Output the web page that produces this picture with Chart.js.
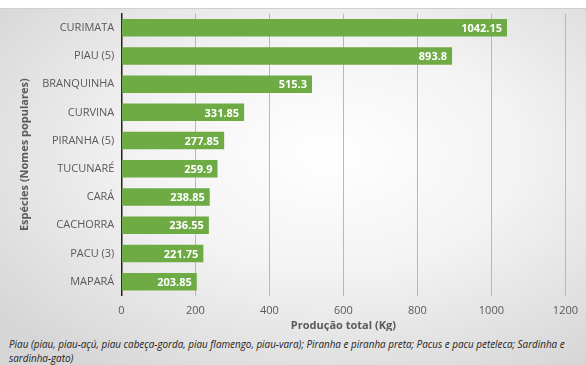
<!DOCTYPE html>
<html>
<head>
<meta charset="utf-8">
<script src="https://cdn.jsdelivr.net/npm/chart.js@4"></script>
<style>
  html, body { margin: 0; padding: 0; }
  body {
    width: 586px; height: 365px; overflow: hidden; position: relative;
    background: #ffffff;
    font-family: "Open Sans", "Liberation Sans", sans-serif;
  }
  #bg {
    position: absolute; left: 0; top: 8px; width: 586px; height: 357px;
    background: radial-gradient(ellipse 420px 260px at 330px 145px, #ffffff 0%, #f3f3f3 45%, #d6d6d6 100%);
    border-top: 1px solid #d0d0d0;
  }
  #wrap { position: absolute; left: 0; top: 0; width: 586px; height: 331px; }
  #note {
    position: absolute; left: 9px; top: 337px; width: 572px;
    font-size: 9.9px; font-style: italic; color: #222; line-height: 14px;
  }
</style>
</head>
<body>
<div id="bg"></div>
<div id="wrap"><canvas id="chart"></canvas></div>
<div id="note">Piau (piau, piau-açú, piau cabeça-gorda, piau flamengo, piau-vara); Piranha e piranha preta; Pacus e pacu peteleca; Sardinha e sardinha-gato)</div>
<script>
const species = ['CURIMATA', 'PIAU (5)', 'BRANQUINHA', 'CURVINA', 'PIRANHA (5)', 'TUCUNARÉ', 'CARÁ', 'CACHORRA', 'PACU (3)', 'MAPARÁ'];
const production = [1042.15, 893.8, 515.3, 331.85, 277.85, 259.9, 238.85, 236.55, 221.75, 203.85];
const xTicks = [0, 200, 400, 600, 800, 1000, 1200];

// rótulos brancos no fim de cada barra
const insideLabels = {
    id: 'insideLabels',
    afterDatasetsDraw(chart) {
        const ctx = chart.ctx;
        const meta = chart.getDatasetMeta(0);
        ctx.save();
        ctx.font = 'bold 11px "Open Sans", sans-serif';
        ctx.fillStyle = '#ffffff';
        ctx.textAlign = 'right';
        ctx.textBaseline = 'middle';
        meta.data.forEach(function (bar, i) {
            ctx.fillText(String(production[i]), bar.x - 5, bar.y + 1);
        });
        ctx.restore();
    }
};

const ctx = document.getElementById('chart').getContext('2d');
const chart = new Chart(ctx, {
    type: 'bar',
    data: {
        labels: species,
        datasets: [{
            data: production,
            backgroundColor: '#6eab44',
            borderWidth: 0,
            barPercentage: 0.62,
            categoryPercentage: 1.0
        }]
    },
    options: {
        indexAxis: 'y',
        responsive: true,
        maintainAspectRatio: false,
        animation: false,
        layout: { padding: { left: 18, right: 20, top: 5, bottom: 0 } },
        scales: {
            x: {
                min: 0,
                max: 1200,
                afterBuildTicks: function (axis) {
                    axis.ticks = xTicks.map(v => ({ value: v }));
                },
                grid: { color: '#b8b8b8', lineWidth: 1, drawTicks: false },
                border: { display: false },
                ticks: {
                    color: '#595959',
                    font: { size: 11, family: '"Open Sans", sans-serif' },
                    padding: 8,
                    callback: function (value) { return String(value); }
                },
                title: {
                    display: true,
                    text: 'Produção total (Kg)',
                    color: '#595959',
                    font: { size: 11, weight: 'bold', family: '"Open Sans", sans-serif', lineHeight: 1.0 },
                    padding: { top: -5, bottom: 0 }
                }
            },
            y: {
                grid: { display: false, drawTicks: false },
                border: { display: true, color: '#222222', width: 1.5 },
                ticks: {
                    color: '#595959',
                    font: { size: 11, family: '"Open Sans", sans-serif' },
                    padding: 7
                },
                title: {
                    display: true,
                    text: 'Espécies (Nomes populares)',
                    color: '#595959',
                    font: { size: 11, weight: 'bold', family: '"Open Sans", sans-serif' },
                    padding: { top: 0, bottom: 4 }
                }
            }
        },
        plugins: {
            legend: { display: false },
            tooltip: { enabled: false }
        }
    },
    plugins: [insideLabels]
});
</script>
</body>
</html>
